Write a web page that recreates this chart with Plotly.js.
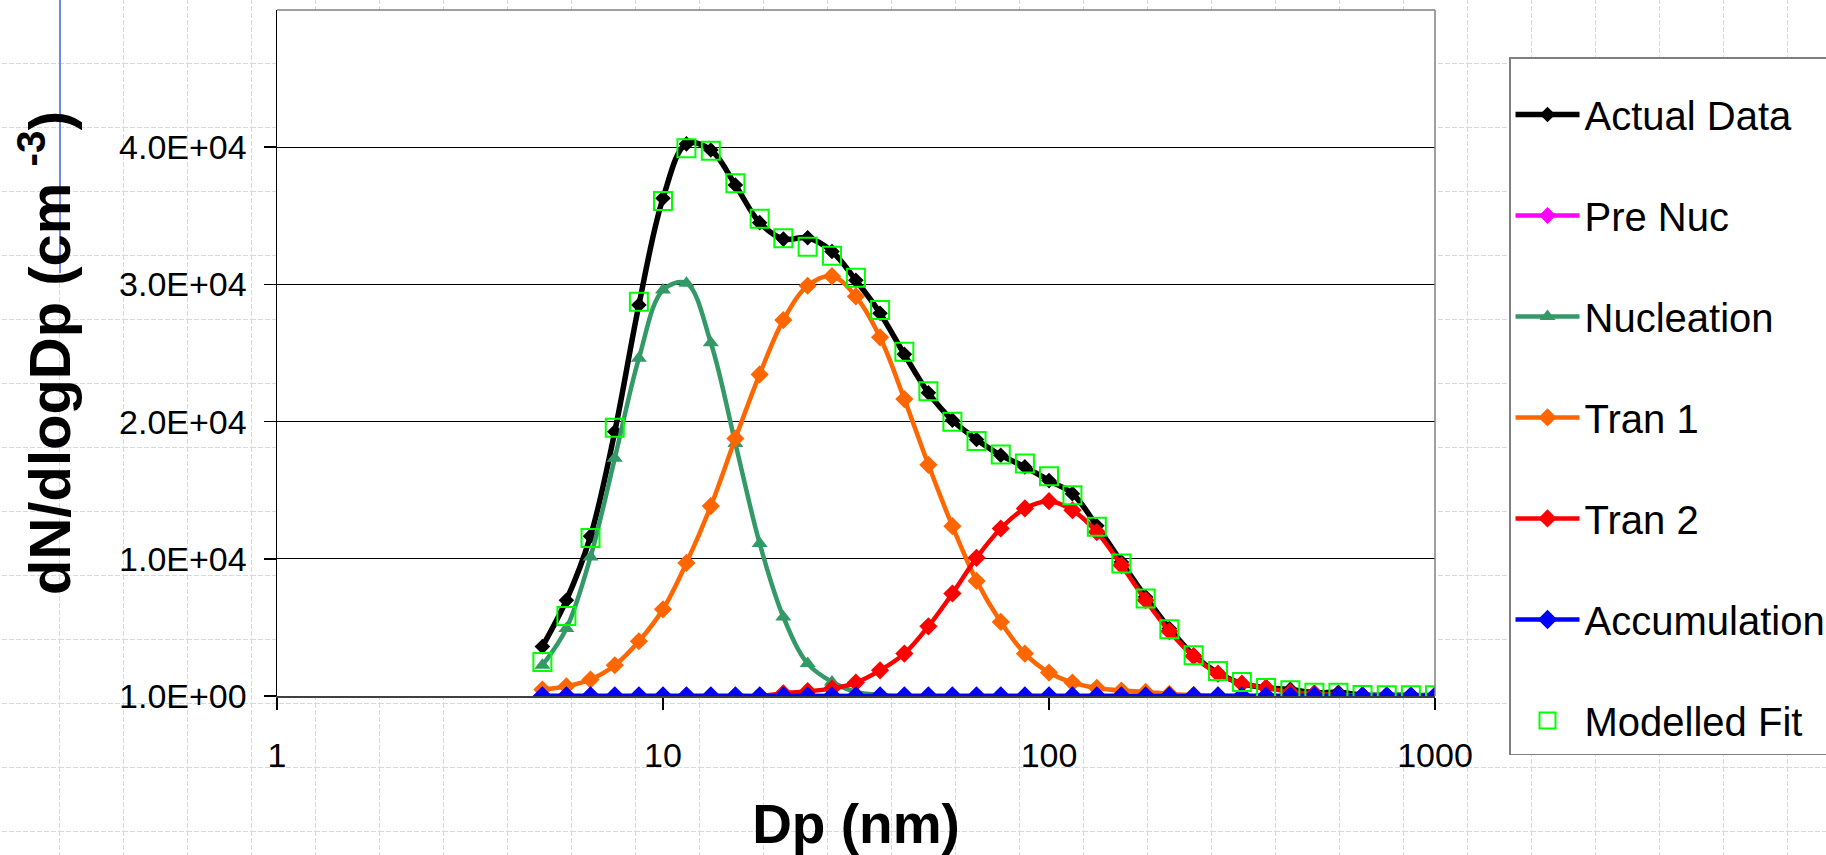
<!DOCTYPE html>
<html>
<head>
<meta charset="utf-8">
<script src="https://cdn.plot.ly/plotly-3.0.1.min.js"></script>
<style>
html,body{margin:0;padding:0;width:1826px;height:855px;overflow:hidden;background-color:#ffffff;}
body{
  background-image:url("data:image/svg+xml;utf8,<svg xmlns='http://www.w3.org/2000/svg' width='64' height='64'><path d='M0.5 0V64M0 0.5H64' stroke='%23cfd8f6' stroke-width='1' stroke-dasharray='5 2' fill='none'/></svg>");
  background-position:59px 63px;
}
#bl{position:absolute;left:59px;top:0;width:1.5px;height:273px;background:#6f87ee;}
#chart{position:absolute;left:0;top:0;width:1826px;height:855px;}
</style>
</head>
<body>
<div id="bl"></div>
<div id="chart"></div>
<script>
// Particle diameters (nm)
const dp = [4.87, 5.62, 6.49, 7.50, 8.66, 10.0, 11.5, 13.3, 15.4, 17.8, 20.5, 23.7, 27.4, 31.6, 36.5, 42.2, 48.7, 56.2, 64.9, 75.0,
            86.6, 100, 115, 133, 154, 178, 205, 237, 274, 316, 365, 422, 487, 562, 649, 750, 866, 1000];

const actualData = [3600, 6980, 11650, 19260, 28500, 36280, 40240, 39800, 37250, 34500, 33300, 33400, 32400, 30300, 27900, 24900, 22100, 20100, 18700, 17550,
                    16700, 15700, 14750, 12400, 9770, 7220, 4920, 2970, 1680, 900, 600, 480, 250, 270, 80, 60, 40, 30];

const preNuc = [0, 0, 0, 0, 0, 0, 0, 0, 0, 0, 0, 0, 0, 0, 0, 0, 0, 0, 0, 0,
                0, 0, 0, 0, 0, 0, 0, 0, 0, 0, 0, 0, 0, 0, 0, 0, 0, 0];

const nucleation = [2240, 4920, 10140, 17320, 24610, 29590, 30080, 25750, 18410, 11120, 5760, 2360, 1020, 300, 80, 0, 0, 0, 0, 0,
                    0, 0, 0, 0, 0, 0, 0, 0, 0, 0, 0, 0, 0, 0, 0, 0, 0, 0];

const tran1 = [470, 710, 1200, 2240, 3990, 6320, 9700, 13840, 18770, 23440, 27400, 29900, 30600, 29120, 26140, 21640, 16850, 12380, 8390, 5400,
               3090, 1710, 980, 590, 400, 300, 150, 80, 40, 0, 0, 0, 0, 0, 0, 0, 0, 0];

const tran2 = [0, 0, 0, 0, 0, 0, 0, 0, 0, 0, 200, 350, 540, 980, 1870, 3090, 5080, 7470, 10070, 12210,
               13670, 14200, 13540, 11950, 9530, 6980, 4720, 2900, 1630, 900, 610, 290, 175, 80, 30, 10, 0, 0];

const accumulation = [0, 0, 0, 0, 0, 0, 0, 0, 0, 0, 0, 0, 0, 0, 0, 0, 0, 0, 0, 0,
                      0, 0, 0, 0, 0, 0, 0, 0, 0, 0, 0, 0, 0, 0, 0, 0, 0, 0];

const modelledFit = [2480, 5835, 11520, 19550, 28740, 36080, 39930, 39750, 37370, 34790, 33360, 32750, 32090, 30490, 28130, 25090, 22220, 19990, 18580, 17610,
                     16950, 16020, 14640, 12330, 9660, 7100, 4870, 2970, 1820, 1020, 580, 415, 230, 230, 80, 60, 50, 50];

const xTickVals = [1, 10, 100, 1000];
const xTickText = ["1", "10", "100", "1000"];
const yTickVals = [0, 10000, 20000, 30000, 40000];
const yTickText = ["1.0E+00", "1.0E+04", "2.0E+04", "3.0E+04", "4.0E+04"];

function lineTrace(name, y, color, symbol, msize, lw) {
  return {
    type: 'scatter', mode: 'lines+markers', name: name, legendgroup: name,
    x: dp, y: y,
    line: {color: color, width: lw, shape: 'spline', smoothing: 1},
    marker: {symbol: symbol, size: msize, color: color}
  };
}

const traces = [
  lineTrace('Actual Data', actualData, '#000000', 'diamond', 12, 5.5),
  lineTrace('Pre Nuc', preNuc, '#ff00ff', 'diamond', 13, 4.5),
  lineTrace('Nucleation', nucleation, '#339966', 'triangle-up', 14, 4.5),
  lineTrace('Tran 1', tran1, '#ff6600', 'diamond', 14, 4.5),
  lineTrace('Tran 2', tran2, '#ff0000', 'diamond', 14, 4.5),
  lineTrace('Accumulation', accumulation, '#0000ff', 'diamond', 15, 4.5),
  {
    type: 'scatter', mode: 'markers', name: 'Modelled Fit', legendgroup: 'Modelled Fit',
    x: dp, y: modelledFit,
    marker: {symbol: 'square-open', size: 18, color: '#00ff00', line: {width: 2, color: '#00ff00'}}
  }
];

const layout = {
  width: 1826, height: 855,
  margin: {l: 277, r: 391, t: 10, b: 159, pad: 0},
  paper_bgcolor: 'rgba(0,0,0,0)',
  plot_bgcolor: '#ffffff',
  font: {family: 'Liberation Sans, Arial, sans-serif', color: '#000000'},
  showlegend: true,
  xaxis: {
    type: 'log', range: [0, 3],
    tickmode: 'array', tickvals: xTickVals, ticktext: xTickText,
    ticks: 'outside', ticklen: 12, tickwidth: 1.5, tickcolor: '#000000',
    showgrid: false, zeroline: false,
    showline: true, linecolor: '#404040', linewidth: 2,
    tickfont: {size: 34, color: '#000000'},
    ticklabelstandoff: 16,
    automargin: false,
    title: {text: 'Dp (nm)', font: {size: 55, weight: 'bold', color: '#000000'}, standoff: 34}
  },
  yaxis: {
    range: [0, 50000],
    tickmode: 'array', tickvals: yTickVals, ticktext: yTickText,
    ticks: 'outside', ticklen: 12, tickwidth: 1.5, tickcolor: '#000000',
    showgrid: true, gridcolor: '#000000', gridwidth: 1,
    zeroline: false,
    showline: true, linecolor: '#000000', linewidth: 1.5,
    tickfont: {size: 34, color: '#000000'},
    ticklabelstandoff: 10,
    automargin: false,
    title: {text: 'dN/dlogDp (cm <sup>-3</sup>)', font: {size: 58, weight: 'bold', color: '#000000'}, standoff: 30}
  },
  shapes: [
    {type: 'line', xref: 'paper', yref: 'paper', x0: 0, x1: 1, y0: 1, y1: 1, line: {color: '#808080', width: 1.5}},
    {type: 'line', xref: 'paper', yref: 'paper', x0: 1, x1: 1, y0: 0, y1: 1, line: {color: '#808080', width: 1.5}}
  ],
  legend: {
    xref: 'container', yref: 'container',
    x: 0.8264, xanchor: 'left', y: 0.9333, yanchor: 'top',
    bgcolor: '#ffffff', bordercolor: '#808080', borderwidth: 1.5,
    font: {size: 40, color: '#000000'},
    title: {text: '\u00a0', font: {size: 18}},
    tracegroupgap: 46, itemwidth: 64,
    maxheight: 790,
    traceorder: 'grouped'
  }
};

Plotly.newPlot('chart', traces, layout, {displayModeBar: false, staticPlot: true});
</script>
</body>
</html>
